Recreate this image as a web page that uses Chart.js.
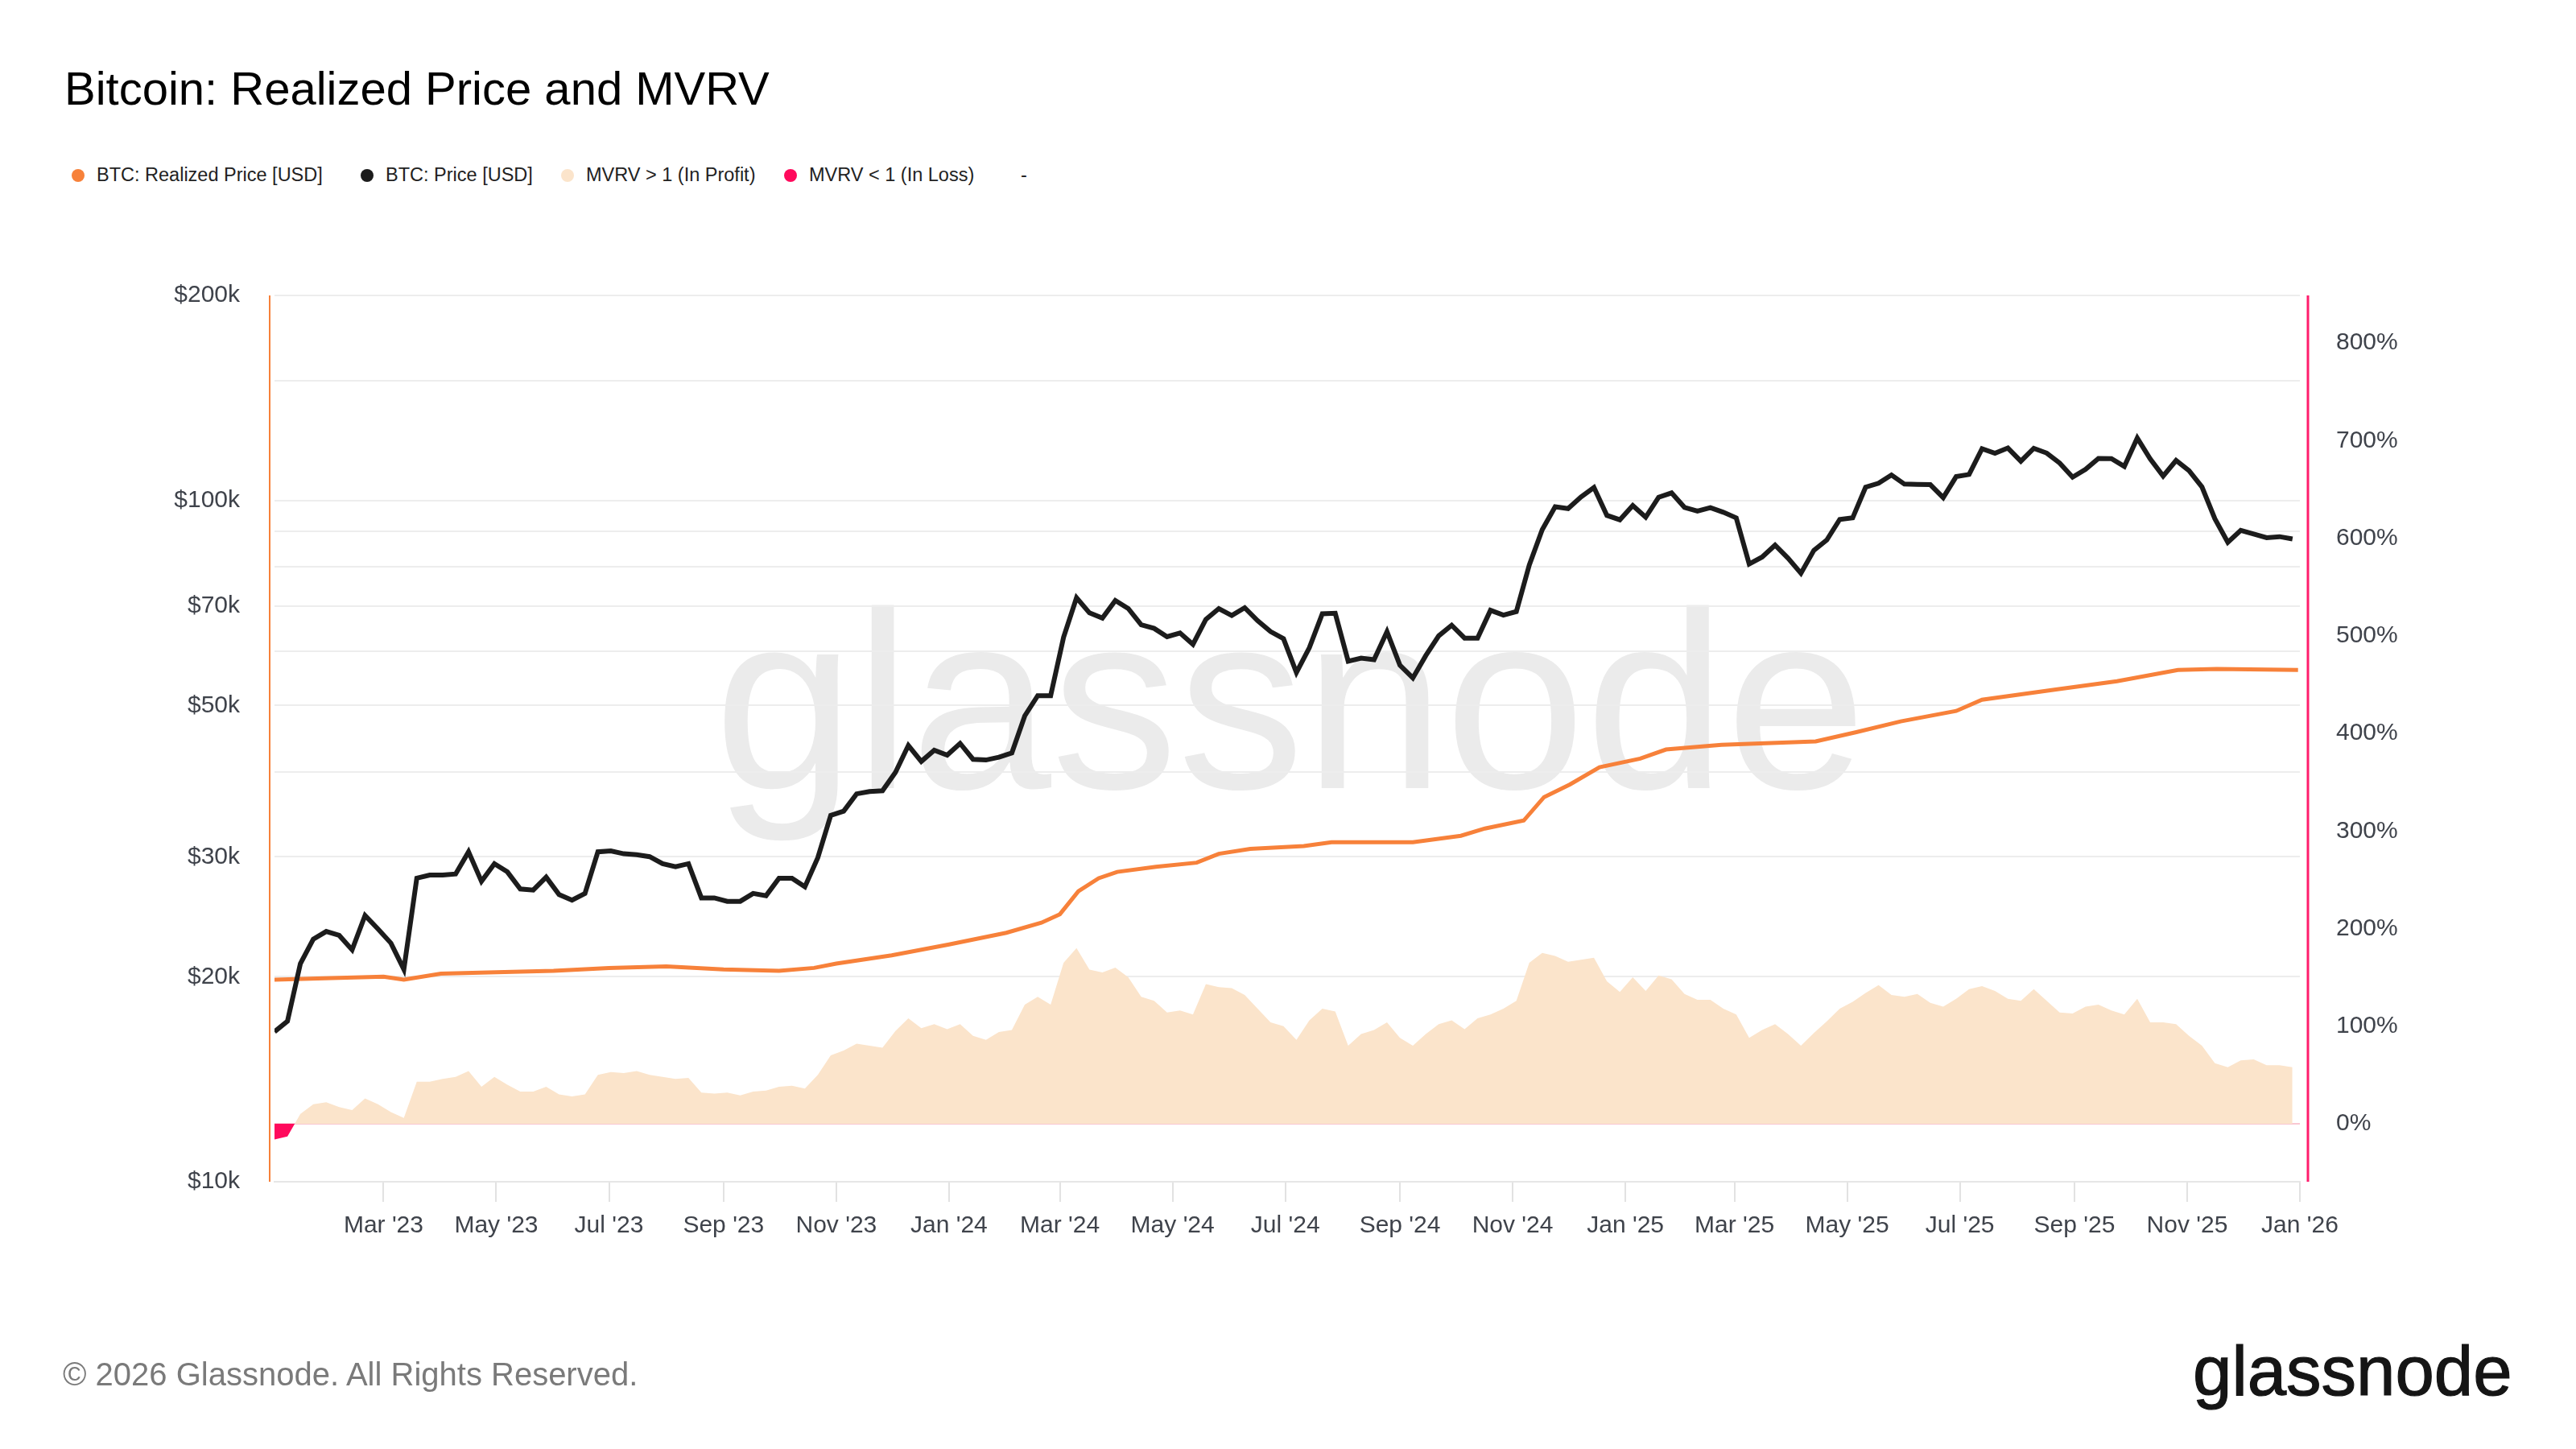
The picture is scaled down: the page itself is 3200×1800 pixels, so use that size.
<!DOCTYPE html>
<html lang="en">
<head>
<meta charset="UTF-8">
<title>Bitcoin: Realized Price and MVRV</title>
<script src="https://cdn.jsdelivr.net/npm/chart.js@4.4.1/dist/chart.umd.min.js"></script>
<style>
  body { margin: 0; background: #fff; font-family: "Liberation Sans", Arial, sans-serif; }
  #page { position: relative; width: 3200px; height: 1800px; overflow: hidden; background: #fff; }
  .abs { position: absolute; white-space: nowrap; line-height: 1; }
  #title { left: 80px; top: 81px; font-size: 58px; color: #000; }
  #legend { left: 89px; top: 200px; height: 36px; font-size: 23.5px; color: #222; }
  .item { position: absolute; top: 0; height: 36px; display: flex; align-items: center; white-space: nowrap; }
  .dot { width: 16px; height: 16px; border-radius: 50%; margin-right: 15px; }
  #watermark { left: 887px; top: 714px; font-size: 314px; color: #ebebeb; }
  #copy { left: 78px; top: 1687px; font-size: 40px; color: #7a7a7a; }
  #logo { left: 2724px; top: 1659px; font-size: 87px; color: #151515; -webkit-text-stroke: 1.2px #151515; }
  canvas { position: absolute; left: 0; top: 0; }
</style>
</head>
<body>
<div id="page">
  <div id="title" class="abs">Bitcoin: Realized Price and MVRV</div>
  <div id="legend" class="abs">
    <div class="item" style="left:0"><span class="dot" style="background:#f7813a"></span>BTC: Realized Price [USD]</div>
    <div class="item" style="left:359px"><span class="dot" style="background:#1c1c1c"></span>BTC: Price [USD]</div>
    <div class="item" style="left:608px"><span class="dot" style="background:#fbe4cb"></span>MVRV &gt; 1 (In Profit)</div>
    <div class="item" style="left:885px"><span class="dot" style="background:#ff0a5c"></span>MVRV &lt; 1 (In Loss)</div>
    <div class="item" style="left:1179px">-</div>
  </div>
  <div id="watermark" class="abs">glassnode</div>
  <canvas id="chart" width="3200" height="1800"></canvas>
  <div id="copy" class="abs">© 2026 Glassnode. All Rights Reserved.</div>
  <div id="logo" class="abs">glassnode</div>
</div>

<script>
// weekly closes, Sundays starting 2023-01-01
const btcPrice2023 = [16600, 17200, 20900, 22700, 23300, 23000, 21900, 24600, 23500, 22400, 20500, 27900, 28200,
  28200, 28300, 30500, 27600, 29300, 28500, 26900, 26800, 28000, 26400, 25900, 26500, 30500, 30600, 30300, 30200,
  30000, 29300, 29000, 29300, 26100, 26100, 25800, 25800, 26500, 26300, 27900, 27900, 27100, 29900, 34500, 35000,
  37100, 37400, 37500, 39900, 43700, 41400, 43000, 42300];
const btcPrice2024 = [44000, 41700, 41600, 42000, 42600, 48300, 51700, 51700, 63000, 72000, 68400, 67200, 71300,
  69400, 65700, 64900, 63100, 63900, 61500, 66900, 69400, 67800, 69600, 66600, 64200, 62700, 55900, 60800, 68200,
  68300, 58100, 58700, 58400, 64200, 57300, 54900, 59200, 63300, 65600, 62800, 62800, 69000, 67900, 68700, 80400,
  90600, 97900, 97300, 101200, 104500, 95100, 93700];
const btcPrice2025 = [98300, 94500, 101100, 102600, 97700, 96500, 97600, 96100, 94300, 80700, 82600, 86000, 82300,
  78200, 84500, 87500, 93800, 94300, 104600, 106000, 109000, 105700, 105600, 105500, 101000, 108400, 109200, 119100,
  117300, 119400, 114200, 119300, 117400, 113500, 108200, 111100, 115300, 115200, 112200, 123500, 115100, 108600,
  114500, 110600, 104700, 94000, 86800, 90400, 89300, 88200, 88500, 87800];

// MVRV shown as percent above 1 (same weekly dates)
const mvrv2023 = [-16, -13, 10, 20, 22, 17, 14, 26, 20, 12, 6, 43, 43, 46, 48, 54, 38, 48, 40, 33, 33, 38, 30, 28,
  30, 50, 53, 52, 54, 50, 48, 46, 47, 32, 31, 32, 29, 33, 34, 38, 39, 36, 50, 70, 75, 82, 80, 78, 95, 108, 98, 102, 97];
const mvrv2024 = [102, 90, 86, 94, 96, 122, 130, 122, 165, 180, 158, 155, 160, 150, 130, 126, 114, 116, 112, 143,
  140, 139, 132, 118, 104, 100, 86, 106, 118, 115, 80, 92, 96, 104, 88, 80, 92, 102, 106, 97, 108, 112, 118, 126,
  165, 175, 172, 166, 168, 170, 146, 135];
const mvrv2025 = [150, 136, 152, 148, 133, 127, 127, 118, 112, 88, 96, 102, 92, 80, 93, 105, 118, 125, 134, 142,
  132, 130, 133, 124, 120, 128, 138, 141, 136, 128, 126, 138, 126, 114, 113, 120, 122, 116, 112, 128, 104, 104, 102,
  90, 80, 62, 58, 65, 66, 60, 60, 58];

const realizedDates = ['2023-01-01', '2023-02-01', '2023-03-01', '2023-03-12', '2023-04-01', '2023-05-01',
  '2023-06-01', '2023-07-01', '2023-08-01', '2023-09-01', '2023-10-01', '2023-10-20', '2023-11-01', '2023-12-01',
  '2024-01-01', '2024-02-01', '2024-02-20', '2024-03-01', '2024-03-11', '2024-03-22', '2024-04-01', '2024-04-22',
  '2024-05-14', '2024-05-26', '2024-06-12', '2024-07-11', '2024-07-26', '2024-09-08', '2024-10-04', '2024-10-17',
  '2024-11-07', '2024-11-18', '2024-12-02', '2024-12-18', '2025-01-09', '2025-01-23', '2025-02-22', '2025-04-14',
  '2025-05-06', '2025-05-30', '2025-06-29', '2025-07-13', '2025-08-22', '2025-09-24', '2025-10-27', '2025-11-17',
  '2025-12-31'];
const realizedPrice = [19800, 19900, 20000, 19800, 20200, 20300, 20400, 20600, 20700, 20500, 20400, 20600, 20900,
  21500, 22300, 23200, 24000, 24700, 26700, 27900, 28500, 29000, 29400, 30300, 30800, 31100, 31500, 31500, 32200,
  33000, 33900, 36700, 38300, 40600, 41800, 43100, 43800, 44300, 45700, 47400, 49100, 51000, 52800, 54300, 56400,
  56600, 56400];

const xTickDates = ['2023-03-01', '2023-05-01', '2023-07-01', '2023-09-01', '2023-11-01', '2024-01-01',
  '2024-03-01', '2024-05-01', '2024-07-01', '2024-09-01', '2024-11-01', '2025-01-01', '2025-03-01', '2025-05-01',
  '2025-07-01', '2025-09-01', '2025-11-01', '2026-01-01'];
const xTickLabels = ["Mar '23", "May '23", "Jul '23", "Sep '23", "Nov '23", "Jan '24", "Mar '24", "May '24",
  "Jul '24", "Sep '24", "Nov '24", "Jan '25", "Mar '25", "May '25", "Jul '25", "Sep '25", "Nov '25", "Jan '26"];
const priceTickValues = [10000, 20000, 30000, 50000, 70000, 100000, 200000];
const priceTickLabels = ['$10k', '$20k', '$30k', '$50k', '$70k', '$100k', '$200k'];
const mvrvTickValues = [0, 100, 200, 300, 400, 500, 600, 700, 800];

const DAY = 86400000;
const firstWeek = Date.UTC(2023, 0, 1);
const btcPrice = [...btcPrice2023, ...btcPrice2024, ...btcPrice2025];
const mvrv = [...mvrv2023, ...mvrv2024, ...mvrv2025];
const weekX = btcPrice.map((_, i) => firstWeek + i * 7 * DAY);

const tickFont = { family: '"Liberation Sans", Arial, sans-serif', size: 30 };
const tickColor = '#3f434b';

// axis lines sit a little outside the plot area, as in the original
const axisLines = {
  id: 'axisLines',
  afterDatasetsDraw(chart) {
    const { ctx, chartArea: a } = chart;
    ctx.save();
    ctx.lineWidth = 2;
    ctx.strokeStyle = '#f7813a';
    ctx.beginPath();
    ctx.moveTo(a.left - 6, a.top);
    ctx.lineTo(a.left - 6, a.bottom);
    ctx.stroke();
    ctx.lineWidth = 3;
    ctx.strokeStyle = '#ff1d6c';
    ctx.beginPath();
    ctx.moveTo(a.right + 10, a.top);
    ctx.lineTo(a.right + 10, a.bottom);
    ctx.stroke();
    ctx.restore();
  }
};

new Chart(document.getElementById('chart'), {
  type: 'line',
  data: {
    datasets: [
      {
        label: 'BTC: Price [USD]',
        data: btcPrice.map((v, i) => ({ x: weekX[i], y: v })),
        yAxisID: 'y',
        borderColor: '#1c1c1c',
        borderWidth: 6,
        pointRadius: 0,
        fill: false
      },
      {
        label: 'BTC: Realized Price [USD]',
        data: realizedPrice.map((v, i) => ({ x: Date.parse(realizedDates[i]), y: v })),
        yAxisID: 'y',
        borderColor: '#f7813a',
        borderWidth: 5,
        pointRadius: 0,
        fill: false
      },
      {
        label: 'MVRV',
        data: mvrv.map((v, i) => ({ x: weekX[i], y: v })),
        yAxisID: 'y1',
        borderWidth: 0,
        borderColor: 'rgba(0,0,0,0)',
        pointRadius: 0,
        fill: { target: { value: 0 }, above: '#fbe4cb', below: '#ff0a5c' }
      }
    ]
  },
  options: {
    responsive: false,
    devicePixelRatio: 1,
    animation: false,
    events: [],
    layout: { padding: { left: 80, right: 68, top: 367, bottom: 232 } },
    plugins: { legend: { display: false }, title: { display: false }, tooltip: { enabled: false } },
    elements: { line: { tension: 0 } },
    scales: {
      x: {
        type: 'linear',
        min: Date.UTC(2023, 0, 1),
        max: Date.UTC(2026, 0, 1),
        afterBuildTicks: scale => { scale.ticks = xTickDates.map(d => ({ value: Date.parse(d) })); },
        afterFit: scale => { scale.height = 100; },
        grid: { drawOnChartArea: false, drawTicks: true, tickLength: 25, color: '#e2e2e2', lineWidth: 2 },
        border: { display: true, color: '#e6e6e6', width: 2 },
        ticks: {
          autoSkip: false, maxRotation: 0, padding: 12, font: tickFont, color: tickColor,
          callback: (value, index) => xTickLabels[index]
        }
      },
      y: {
        type: 'logarithmic',
        position: 'left',
        min: 10000,
        max: 200000,
        afterFit: scale => { scale.width = 261; },
        grid: { color: '#ededed', lineWidth: 2, drawTicks: false },
        border: { display: false },
        ticks: {
          autoSkip: false, padding: 43, font: tickFont, color: tickColor,
          callback: value => {
            const i = priceTickValues.findIndex(t => Math.abs(t - value) < 1);
            return i >= 0 ? priceTickLabels[i] : '';
          }
        }
      },
      y1: {
        type: 'linear',
        position: 'right',
        min: -59.4,
        max: 848.7,
        afterBuildTicks: scale => { scale.ticks = mvrvTickValues.map(v => ({ value: v })); },
        afterFit: scale => { scale.width = 275; },
        grid: {
          drawTicks: false, lineWidth: 2,
          color: ctx => (ctx.tick && ctx.tick.value === 0) ? '#f9c7d2' : 'rgba(0,0,0,0)'
        },
        border: { display: false },
        ticks: { padding: 45, font: tickFont, color: tickColor, callback: v => v + '%' }
      }
    }
  },
  plugins: [axisLines]
});
</script>
</body>
</html>
